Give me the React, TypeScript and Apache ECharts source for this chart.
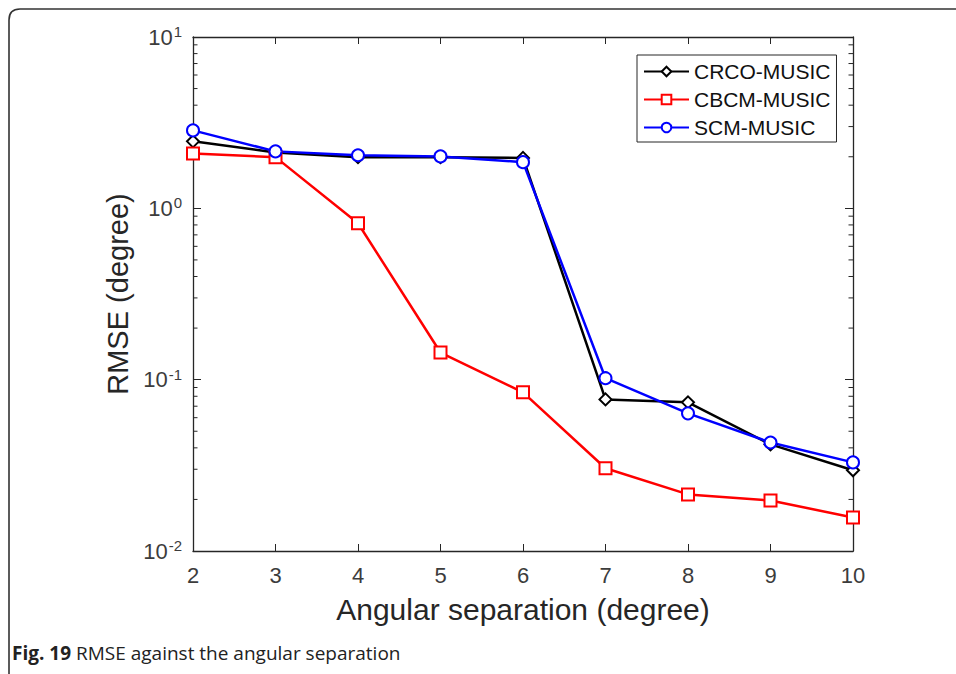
import React, { useEffect, useRef } from "react";
import * as echarts from "echarts";

// Angular separation (degree)
const separations = [2, 3, 4, 5, 6, 7, 8, 9, 10];
// RMSE (degree) of each estimator
const crcoMusic = [2.46, 2.12, 1.99, 1.99, 1.97, 0.0767, 0.0737, 0.0419, 0.0296];
const cbcmMusic = [2.09, 1.99, 0.818, 0.144, 0.0843, 0.0304, 0.0214, 0.0197, 0.0157];
const scmMusic = [2.85, 2.15, 2.04, 2.01, 1.86, 0.102, 0.0636, 0.043, 0.0329];
// Log-axis minor tick values (2..9 in each decade)
const minorTickValues: number[] = [];
for (const decade of [0.01, 0.1, 1]) {
  for (const m of [2, 3, 4, 5, 6, 7, 8, 9]) minorTickValues.push(+(m * decade).toPrecision(3));
}

const FONT = "'Liberation Sans', Arial, sans-serif";
const AXIS_COLOR = "#262626";
const LABEL_COLOR = "#3c3c3c";

function pairs(ys: number[]) {
  return separations.map((x, i) => [x, ys[i]]);
}

export default function App() {
  const ref = useRef<HTMLDivElement>(null);

  useEffect(() => {
    document.body.style.margin = "0";
    if (!ref.current) return;
    const chart = echarts.init(ref.current, undefined, { renderer: "svg" });

    echarts.graphic.registerShape(
      "frameEdge",
      echarts.graphic.extendPath("M 9 674 L 9 20 Q 9 9 20 9 L 956 9", {})
    );

    const lineSeries = (name: string, data: number[], color: string, symbol: string) => ({
      name,
      type: "line",
      data: pairs(data),
      symbol,
      symbolSize: 12,
      showAllSymbol: true,
      lineStyle: { color, width: 2.5 },
      itemStyle: { color, borderColor: color, borderWidth: 2.4 },
      z: 3,
    });

    chart.setOption({
      animation: false,
      backgroundColor: "#ffffff",
      grid: { left: 193, top: 37, right: 103, bottom: 123, containLabel: false },
      legend: {
        orient: "vertical",
        left: 637,
        top: 55,
        backgroundColor: "#ffffff",
        borderColor: "#262626",
        borderWidth: 1,
        borderRadius: 0,
        padding: [6, 6, 4, 6],
        itemWidth: 45,
        itemHeight: 12,
        itemGap: 7,
        textStyle: { fontFamily: FONT, fontSize: 21, color: "#111111" },
        data: ["CRCO-MUSIC", "CBCM-MUSIC", "SCM-MUSIC"],
      },
      xAxis: [
        {
          type: "value",
          min: 2,
          max: 10,
          interval: 1,
          name: "Angular separation (degree)",
          nameLocation: "middle",
          nameGap: 43,
          nameTextStyle: { fontFamily: FONT, fontSize: 30, color: AXIS_COLOR },
          axisLine: { show: true, lineStyle: { color: AXIS_COLOR, width: 1.3 } },
          axisTick: { show: true, inside: true, length: 7, lineStyle: { color: AXIS_COLOR } },
          axisLabel: { fontFamily: FONT, fontSize: 22, color: LABEL_COLOR, margin: 13 },
          splitLine: { show: false },
        },
        {
          type: "value",
          position: "top",
          min: 2,
          max: 10,
          interval: 1,
          axisLine: { show: true, lineStyle: { color: AXIS_COLOR, width: 1.3 } },
          axisTick: { show: true, inside: true, length: 7, lineStyle: { color: AXIS_COLOR } },
          axisLabel: { show: false },
          splitLine: { show: false },
        },
      ],
      yAxis: [
        {
          type: "log",
          logBase: 10,
          min: 0.01,
          max: 10,
          name: "RMSE (degree)",
          nameLocation: "middle",
          nameRotate: 90,
          nameGap: 50,
          nameTextStyle: { fontFamily: FONT, fontSize: 29, color: AXIS_COLOR },
          axisLine: { show: true, lineStyle: { color: AXIS_COLOR, width: 1.3 } },
          axisTick: { show: true, inside: true, length: 8, lineStyle: { color: AXIS_COLOR } },
          axisLabel: {
            margin: 11,
            formatter: (v: number) => `{b|10}{s|${Math.round(Math.log10(v))}}`,
            rich: {
              b: { fontFamily: FONT, fontSize: 22, color: LABEL_COLOR, lineHeight: 26 },
              s: {
                fontFamily: FONT,
                fontSize: 15,
                color: LABEL_COLOR,
                verticalAlign: "top",
                lineHeight: 26,
                padding: [0, 0, 14, 1],
              },
            },
          },
          splitLine: { show: false },
        },
        {
          type: "log",
          logBase: 10,
          min: 0.01,
          max: 10,
          position: "right",
          axisLine: { show: true, lineStyle: { color: AXIS_COLOR, width: 1.3 } },
          axisTick: { show: true, inside: true, length: 8, lineStyle: { color: AXIS_COLOR } },
          axisLabel: { show: false },
          splitLine: { show: false },
        },
      ],
      series: [
        {
          type: "custom",
          silent: true,
          xAxisIndex: 0,
          yAxisIndex: 0,
          data: minorTickValues.map((v) => [2, v]),
          renderItem: (params: any, api: any) => {
            const cs = params.coordSys;
            const y = api.coord([2, api.value(1)])[1];
            const style = { stroke: AXIS_COLOR, lineWidth: 1 };
            return {
              type: "group",
              children: [
                { type: "line", shape: { x1: cs.x, y1: y, x2: cs.x + 4.5, y2: y }, style },
                {
                  type: "line",
                  shape: { x1: cs.x + cs.width, y1: y, x2: cs.x + cs.width - 4.5, y2: y },
                  style,
                },
              ],
            };
          },
          z: 1,
        },
        lineSeries("CRCO-MUSIC", crcoMusic, "#000000", "emptyDiamond"),
        lineSeries("CBCM-MUSIC", cbcmMusic, "#ff0000", "emptyRect"),
        lineSeries("SCM-MUSIC", scmMusic, "#0000ff", "emptyCircle"),
      ],
      graphic: [
        {
          type: "frameEdge",
          silent: true,
          style: { fill: "none", stroke: "#333333", lineWidth: 1.6 },
        },
        {
          type: "text",
          left: 12,
          top: 643,
          silent: true,
          style: {
            text: "{b|Fig. 19} RMSE against the angular separation",
            rich: {
              b: { fontFamily: "'Open Sans', sans-serif", fontWeight: "bold", fontSize: 19, fill: "#222222" },
            },
            fontFamily: "'Open Sans', sans-serif",
            fontSize: 19,
            fill: "#222222",
          },
        },
      ],
    });

    return () => chart.dispose();
  }, []);

  return <div ref={ref} style={{ width: 956, height: 674 }} />;
}
